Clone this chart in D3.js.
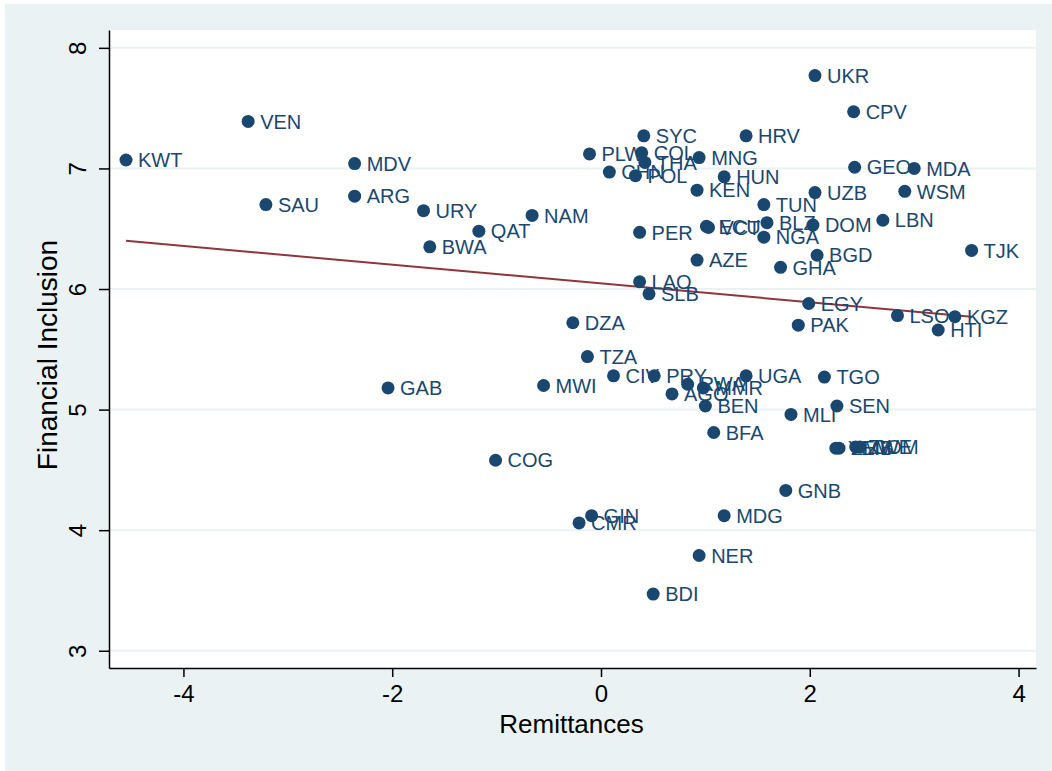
<!DOCTYPE html>
<html>
<head>
<meta charset="utf-8">
<script src="https://cdn.jsdelivr.net/npm/d3@7"></script>
<style>
  html, body { margin: 0; padding: 0; background: #ffffff; }
  svg { display: block; }
  text { font-family: "Liberation Sans", Arial, Helvetica, sans-serif; }
</style>
</head>
<body>
<svg id="chart" width="1052" height="771"></svg>
<script>
// Country codes, remittances (x) and financial inclusion (y)
const countries = ["KWT","VEN","SAU","MDV","ARG","URY","BWA","QAT","NAM","GAB","MWI","COG","DZA","TZA","CIV","PRY","CMR","GIN","BDI","NER","MDG","GNB","SYC","PLW","COL","THA","CHN","POL","MNG","HRV","HUN","KEN","TUN","UZB","ECU","VCT","BLZ","NGA","DOM","PER","AZE","GHA","BGD","LAO","SLB","UKR","CPV","GEO","MDA","WSM","LBN","TJK","LSO","KGZ","HTI","EGY","PAK","TGO","SEN","MLI","UGA","RWA","MMR","AGO","BEN","BFA","YEM","ZMB","ZWE","COM"];
const remittances = [-4.55,-3.38,-3.21,-2.36,-2.36,-1.70,-1.64,-1.17,-0.66,-2.04,-0.55,-1.01,-0.27,-0.13,0.12,0.51,-0.21,-0.09,0.50,0.94,1.18,1.77,0.41,-0.11,0.39,0.42,0.08,0.33,0.94,1.39,1.18,0.92,1.56,2.05,1.01,1.03,1.59,1.56,2.03,0.37,0.92,1.72,2.07,0.37,0.46,2.05,2.42,2.43,3.00,2.91,2.70,3.55,2.84,3.39,3.23,1.99,1.89,2.14,2.26,1.82,1.39,0.83,0.98,0.68,1.00,1.08,2.25,2.28,2.44,2.48];
const inclusion = [7.07,7.39,6.70,7.04,6.77,6.65,6.35,6.48,6.61,5.18,5.20,4.58,5.72,5.44,5.28,5.28,4.06,4.12,3.47,3.79,4.12,4.33,7.27,7.12,7.13,7.05,6.97,6.94,7.09,7.27,6.93,6.82,6.70,6.80,6.52,6.51,6.55,6.43,6.53,6.47,6.24,6.18,6.28,6.06,5.96,7.77,7.47,7.01,7.00,6.81,6.57,6.32,5.78,5.77,5.66,5.88,5.70,5.27,5.03,4.96,5.28,5.21,5.18,5.13,5.03,4.81,4.68,4.68,4.69,4.69];

// Linear fit: intercept and slope
const fitIntercept = 6.046;
const fitSlope = -0.0778;

const xTicks = [-4, -2, 0, 2, 4];
const yTicks = [3, 4, 5, 6, 7, 8];
const xTitle = "Remittances";
const yTitle = "Financial Inclusion";

const W = 1052, H = 771;
const plot = { left: 109, right: 1036, top: 30, bottom: 668 };

const navy = "#1a476f";
const maroon = "#90353b";
const bg = "#eaf2f3";

const svg = d3.select("#chart");

// outer graph region
svg.append("rect").attr("x", 5).attr("y", 4).attr("width", W - 5).attr("height", H - 4).attr("fill", bg);
// plot region
svg.append("rect")
  .attr("x", plot.left).attr("y", plot.top)
  .attr("width", plot.right - plot.left).attr("height", plot.bottom - plot.top)
  .attr("fill", "#ffffff");

const x = d3.scaleLinear().domain([-4.713, 4.167]).range([plot.left, plot.right]);
const y = d3.scaleLinear().domain([2.857, 8.148]).range([plot.bottom, plot.top]);

// horizontal grid lines
svg.append("g").selectAll("line").data(yTicks).join("line")
  .attr("x1", plot.left).attr("x2", plot.right)
  .attr("y1", d => y(d)).attr("y2", d => y(d))
  .attr("stroke", bg).attr("stroke-width", 2);

// x axis
const xAxis = svg.append("g")
  .attr("transform", `translate(0,${plot.bottom})`)
  .call(d3.axisBottom(x).tickValues(xTicks).tickSize(9).tickPadding(8).tickSizeOuter(0)
        .tickFormat(d => d < 0 ? "-" + Math.abs(d) : String(d)));
xAxis.select(".domain").attr("stroke", "#000").attr("stroke-width", 1.5);
xAxis.selectAll(".tick line").attr("stroke", "#000").attr("stroke-width", 1.5);
xAxis.selectAll(".tick text").attr("font-size", 24).attr("fill", "#000")
  .attr("font-family", "'Liberation Sans', Arial, sans-serif");

// y axis with vertical tick labels
const yAxis = svg.append("g")
  .attr("transform", `translate(${plot.left},0)`)
  .call(d3.axisLeft(y).tickValues(yTicks).tickSize(10).tickSizeOuter(0).tickFormat(d3.format("d")));
yAxis.select(".domain").attr("stroke", "#000").attr("stroke-width", 1.5);
yAxis.selectAll(".tick line").attr("stroke", "#000").attr("stroke-width", 1.5);
yAxis.selectAll(".tick text")
  .attr("font-size", 24).attr("fill", "#000")
  .attr("font-family", "'Liberation Sans', Arial, sans-serif")
  .attr("x", null).attr("dy", null)
  .attr("text-anchor", "middle")
  .attr("transform", "translate(-23,0) rotate(-90)");

// axis titles
svg.append("text")
  .attr("x", (plot.left + plot.right) / 2 - 1).attr("y", 733)
  .attr("text-anchor", "middle").attr("font-size", 26).attr("fill", "#000")
  .text(xTitle);
svg.append("text")
  .attr("transform", `translate(57,${(plot.top + plot.bottom) / 2 + 6}) rotate(-90)`)
  .attr("text-anchor", "middle").attr("font-size", 28).attr("fill", "#000")
  .text(yTitle);

// fitted line across the range of remittances
const xr = d3.extent(remittances);
svg.append("line")
  .attr("x1", x(xr[0])).attr("y1", y(fitIntercept + fitSlope * xr[0]))
  .attr("x2", x(xr[1])).attr("y2", y(fitIntercept + fitSlope * xr[1]))
  .attr("stroke", maroon).attr("stroke-width", 2);

// markers with country labels
const pts = countries.map((c, i) => ({ c, rx: remittances[i], fi: inclusion[i] }));
const g = svg.append("g");
pts.forEach(p => {
  g.append("circle")
    .attr("cx", x(p.rx)).attr("cy", y(p.fi)).attr("r", 6.5)
    .attr("fill", navy);
  g.append("text")
    .attr("x", x(p.rx) + 12).attr("y", y(p.fi))
    .attr("dy", "0.36em")
    .attr("font-size", 20).attr("fill", navy)
    .text(p.c);
});
</script>
</body>
</html>
